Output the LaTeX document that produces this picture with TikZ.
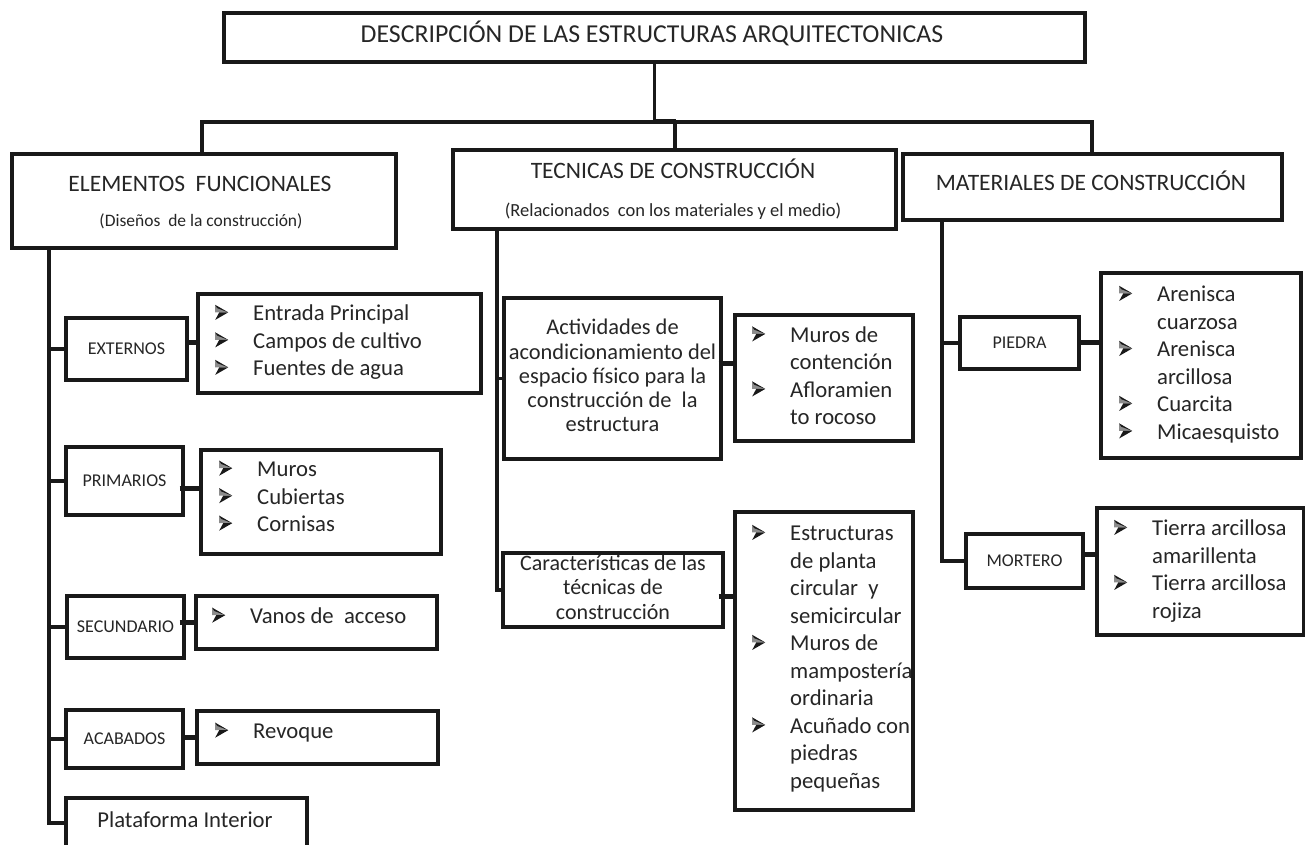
\documentclass[tikz,border=0pt]{standalone}
\usepackage{fontspec}
\setmainfont{Carlito}
\usetikzlibrary{calc}
\newcommand\fsz[2]{\fontsize{#1}{#2}\selectfont}
\newcommand\dart{\tikz[baseline={(0pt,-8.3pt)}]{%
  \fill[black!45] (0pt,0pt) -- (0pt,7.5pt) -- (13pt,0pt) -- (4pt,0pt) -- cycle;
  \fill[black!90] (4pt,0pt) -- (13pt,0pt) -- (0pt,-7.5pt) -- cycle;
  \fill[black!90] (0pt,7.5pt) -- (13pt,0pt) -- (2pt,4.3pt) -- cycle;}}
\newcommand\bul{\makebox[40pt][l]{\hspace*{2pt}\dart}}
\newcommand\li{\strut\bul}
\newcommand\lc{\strut\hspace*{40pt}}
\newcommand\ST{\strut}
\begin{document}
\begin{tikzpicture}[x=1pt,y=-1pt,
  box/.style={draw=black!90, line width=3.4pt, rectangle, inner sep=0pt, text=black!85},
  lnk/.style={draw=black!90, line width=3.2pt},
  cnx/.style={draw=black!90, line width=5pt},
  lbl/.style={inner sep=0pt, text=black!85},
  small/.style={font=\fsz{18}{21}},
  item/.style={lbl, font=\fsz{22.7}{27.5}, align=left, anchor=west},
  ]
\clip (0,0) rectangle (1305,845);
\fill[white] (0,0) rectangle (1305,845);

% ---------- top level
\node[box, minimum width=861pt, minimum height=49pt] (title) at (654.5,37.5) {};
\node[lbl, font=\fsz{25.8}{31}] (titleT) at (652,36) {\ST DESCRIPCIÓN DE LAS ESTRUCTURAS ARQUITECTONICAS};

\node[box, minimum width=384pt, minimum height=94pt] (elem) at (204,201) {};
\node[lbl, font=\fsz{23.5}{28}] (elemT) at (200,186) {\ST ELEMENTOS\ \ FUNCIONALES};
\node[lbl, font=\fsz{17.5}{21}] (elemS) at (201,222) {\ST (Diseños\ \ de la construcción)};

\node[box, minimum width=443pt, minimum height=79pt] (tec) at (674.5,189.5) {};
\node[lbl, font=\fsz{23.5}{28}] (tecT) at (673,173) {\ST TECNICAS DE CONSTRUCCIÓN};
\node[lbl, font=\fsz{18.5}{22}] (tecS) at (673,212) {\ST (Relacionados\ \ con los materiales y el medio)};

\node[box, minimum width=379pt, minimum height=66pt] (mat) at (1092.5,187) {};
\node[lbl, font=\fsz{23.5}{28}] (matT) at (1091,185) {\ST MATERIALES DE CONSTRUCCIÓN};

\coordinate (hL) at (202,122);
\coordinate (hR) at (1092,122);
\coordinate (hT) at (675,122);
\draw[lnk] (title.south) -- (title.south |- hL);
\draw[lnk] (elem.north -| hL) -- (hL) -- (hR) -- (mat.north -| hR);
\draw[lnk] (hT) -- (tec.north -| hT);
\draw[draw=black!90, line width=4pt] ($(title.south |- hL)+(0,-1)$) -- ($(hT)+(1,-1)$);

% ---------- left column
\coordinate (sL) at (49,0);
\node[box, small, minimum width=121pt, minimum height=62pt] (ext) at (126.5,349) {EXTERNOS};
\node[box, minimum width=283pt, minimum height=99pt] (extL) at (339.5,343.5) {};
\node[item] (extT) at (213,342.7) {\li Entrada Principal\\\li Campos de cultivo\\\li Fuentes de agua};

\node[box, small, minimum width=117pt, minimum height=68pt] (prim) at (124.5,481) {PRIMARIOS};
\node[box, minimum width=240pt, minimum height=104pt] (primL) at (321,502) {};
\node[item] (primT) at (217,498.5) {\li Muros\\\li Cubiertas\\\li Cornisas};

\node[box, small, minimum width=117pt, minimum height=62pt] (sec) at (125.5,627) {SECUNDARIO};
\node[box, minimum width=241pt, minimum height=53pt] (secL) at (316.5,622.5) {};
\node[item] (secT) at (210,618) {\li Vanos de\ \ acceso};

\node[box, small, minimum width=117pt, minimum height=58pt] (acab) at (124.5,739) {ACABADOS};
\node[box, minimum width=241pt, minimum height=53pt] (acabL) at (317.5,737.5) {};
\node[item] (acabT) at (213,733) {\li Revoque};

\node[box, minimum width=241pt, minimum height=72pt] (plat) at (186.5,834) {};
\node[lbl, font=\fsz{22.7}{27.5}] (platT) at (185,822) {\ST Plataforma Interior};

\draw[lnk] (elem.south -| sL) |- (plat.west |- 0,823);
\draw[lnk] (ext.west -| sL) -- (ext.west);
\draw[lnk] (prim.west -| sL) -- (prim.west);
\draw[lnk] (sec.west -| sL) -- (sec.west);
\draw[lnk] (acab.west -| sL) -- (acab.west);
\draw[cnx] (ext.east |- 0,342) -- (extL.west |- 0,342);
\draw[cnx] ($(prim.east |- 0,488)+(-5,0)$) -- (primL.west |- 0,488);
\draw[cnx] ($(sec.east |- 0,622)+(-6,0)$) -- (secL.west |- 0,622);
\draw[cnx] (acab.east |- 0,737) -- (acabL.west |- 0,737);

% ---------- middle column
\coordinate (sM) at (497,0);
\node[box, font=\fsz{22.4}{24.3}, align=center, minimum width=217pt, minimum height=161pt] (act) at (612.5,378.5)
  {\ST Actividades de\\\ST acondicionamiento del\\\ST espacio físico para la\\\ST construcción de\ \ la\\\ST estructura};
\node[box, minimum width=178pt, minimum height=126pt] (murL) at (824,378) {};
\node[item] (murT) at (750,378) {\li Muros de\\\lc contención\\\li Afloramien\\\lc to rocoso};

\node[box, font=\fsz{22}{24.5}, align=center, minimum width=220pt, minimum height=74pt] (car) at (613,590)
  {\ST Características de las\\\ST técnicas de\\\ST construcción};
\node[box, minimum width=178pt, minimum height=298pt] (estL) at (824,661) {};
\node[item] (estT) at (750,659) {\li Estructuras\\\lc de planta\\\lc circular\ \ y\\\lc semicircular\\\li Muros de\\\lc mampostería\\\lc ordinaria\\\li Acuñado con\\\lc piedras\\\lc pequeñas};

\draw[lnk] (tec.south -| sM) |- (car.west);
\draw[lnk] (act.west -| sM) -- (act.west);
\draw[cnx] ($(act.east |- 0,363)+(-4,0)$) -- (murL.west |- 0,363);
\draw[cnx] ($(car.east |- 0,596)+(-6,0)$) -- (estL.west |- 0,596);

% ---------- right column
\coordinate (sR) at (942,0);
\node[box, small, minimum width=119pt, minimum height=52pt] (pie) at (1019.5,343) {PIEDRA};
\node[box, minimum width=200pt, minimum height=185pt] (pieL) at (1201,365.5) {};
\node[item] (pieT) at (1117,365) {\li Arenisca\\\lc cuarzosa\\\li Arenisca\\\lc arcillosa\\\li Cuarcita\\\li Micaesquisto};

\node[box, small, minimum width=117pt, minimum height=54pt] (mor) at (1024.5,561) {MORTERO};
\node[box, minimum width=207pt, minimum height=127pt] (morL) at (1200.5,571.5) {};
\node[item] (morT) at (1112,571.5) {\li Tierra arcillosa\\\lc amarillenta\\\li Tierra arcillosa\\\lc rojiza};

\draw[lnk] (mat.south -| sR) |- (mor.west);
\draw[lnk] (pie.west -| sR) -- (pie.west);
\draw[cnx] (pie.east |- 0,342) -- (pieL.west |- 0,342);
\draw[cnx] (mor.east |- 0,554) -- (morL.west |- 0,554);
\end{tikzpicture}
\end{document}
